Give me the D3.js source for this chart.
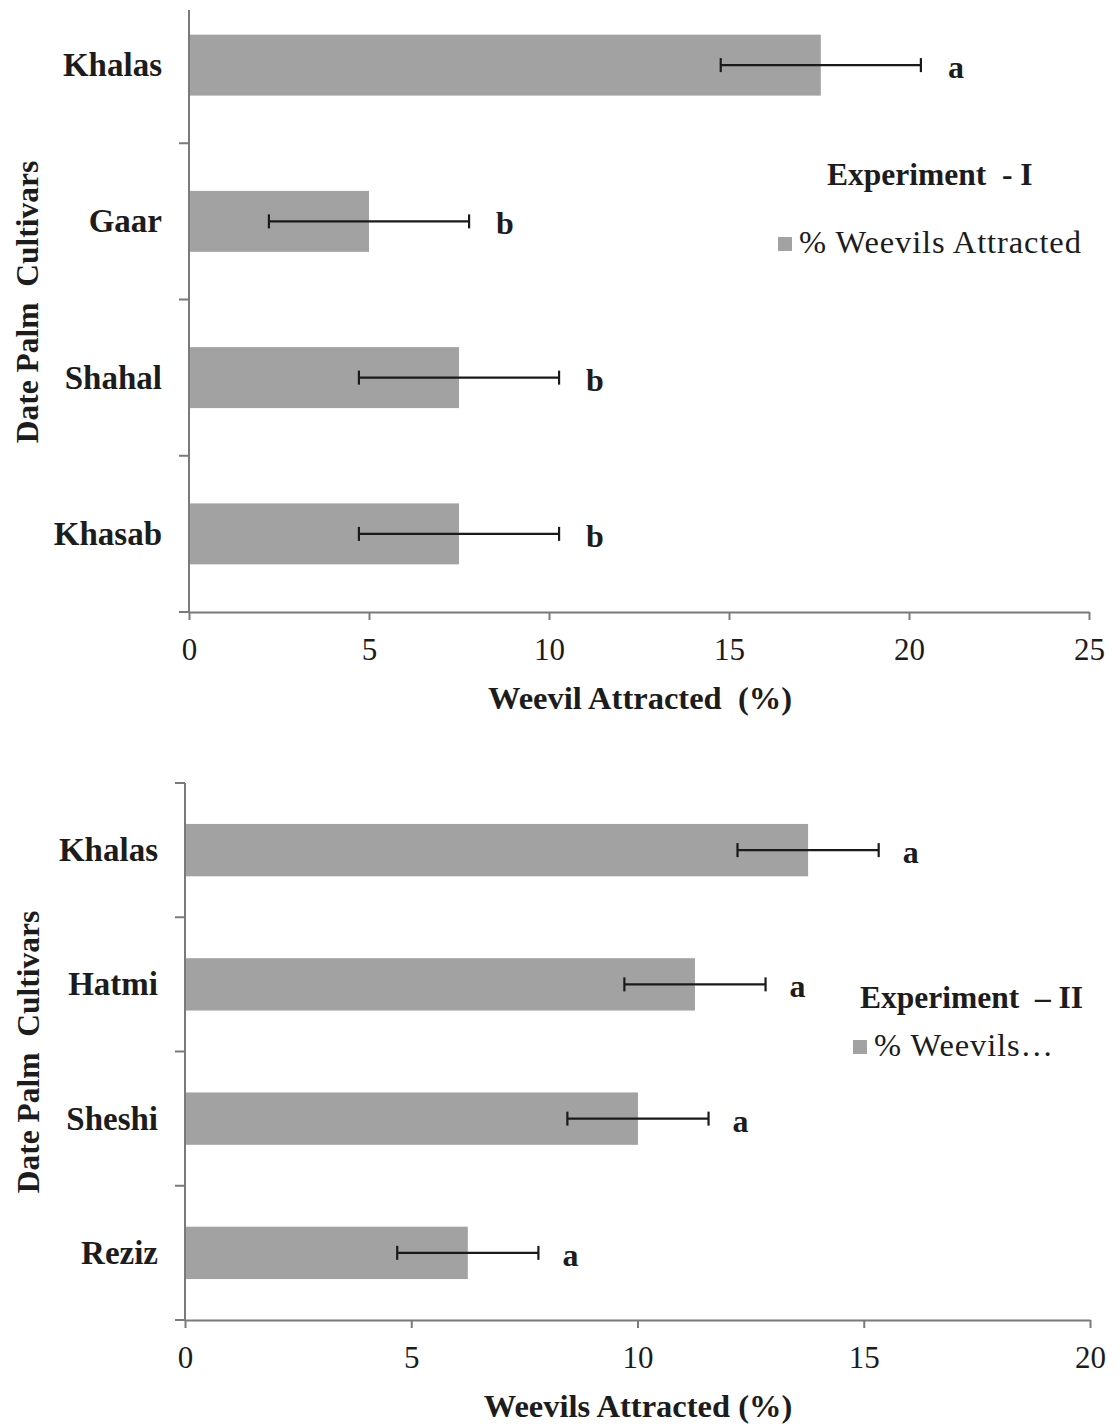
<!DOCTYPE html>
<html>
<head>
<meta charset="utf-8">
<script src="https://cdn.jsdelivr.net/npm/d3@7"></script>
<style>
  html, body { margin: 0; padding: 0; background: #fff; }
  svg text { font-family: "Liberation Serif", "Times New Roman", serif; white-space: pre; fill: #1c1c1c; }
</style>
</head>
<body>
<svg id="chart" width="1120" height="1424"></svg>
<script>
// ---- Data: Experiment I ----
const cultivars1 = ["Khalas", "Gaar", "Shahal", "Khasab"];
const means1 = [17.55, 5.0, 7.5, 7.5];
const errors1 = [2.78, 2.78, 2.78, 2.78];
const letters1 = ["a", "b", "b", "b"];
const ticks1 = [0, 5, 10, 15, 20, 25];

// ---- Data: Experiment II ----
const cultivars2 = ["Khalas", "Hatmi", "Sheshi", "Reziz"];
const means2 = [13.77, 11.27, 10.01, 6.25];
const errors2 = [1.56, 1.56, 1.56, 1.56];
const letters2 = ["a", "a", "a", "a"];
const ticks2 = [0, 5, 10, 15, 20];

const svg = d3.select("#chart");
const barColor = "#a2a2a2";
const axisColor = "#7a7a7a";
const inkColor = "#1a1a1a";

function panel(cfg) {
  const g = svg.append("g");
  const x = d3.scaleLinear().domain([0, cfg.xmax]).range([cfg.left, cfg.right]);
  const yb = d3.scaleBand().domain(cfg.cats).range([cfg.top, cfg.bottom])
    .paddingInner(0.61).paddingOuter(0.305);
  const step = yb.step();

  // bars
  g.selectAll("rect.bar").data(cfg.cats).enter().append("rect")
    .attr("x", x(0))
    .attr("y", d => yb(d))
    .attr("width", (d, i) => x(cfg.means[i]) - x(0))
    .attr("height", yb.bandwidth())
    .attr("fill", barColor);

  // y axis line + band boundary ticks
  g.append("line").attr("x1", x(0)).attr("x2", x(0))
    .attr("y1", cfg.axisTop).attr("y2", cfg.bottom)
    .attr("stroke", axisColor).attr("stroke-width", 2);
  const bounds = d3.range(cfg.cats.length + 1).map(i => cfg.top + i * step)
    .filter(v => v >= cfg.axisTop - 0.5);
  g.selectAll("line.ytick").data(bounds).enter().append("line")
    .attr("x1", x(0) - 10).attr("x2", x(0))
    .attr("y1", d => d).attr("y2", d => d)
    .attr("stroke", axisColor).attr("stroke-width", 2);

  // x axis
  const xAxis = d3.axisBottom(x).tickValues(cfg.ticks).tickSize(8).tickSizeOuter(0).tickPadding(18);
  const ax = g.append("g").attr("transform", `translate(0,${cfg.bottom})`).call(xAxis);
  ax.attr("font-family", null);
  ax.select(".domain").attr("stroke", axisColor).attr("stroke-width", 2);
  ax.selectAll(".tick line").attr("stroke", axisColor).attr("stroke-width", 2);
  ax.selectAll(".tick text")
    .attr("font-size", 31).attr("fill", inkColor);

  // category labels
  g.selectAll("text.cat").data(cfg.cats).enter().append("text")
    .attr("x", x(0) - 27)
    .attr("y", d => yb(d) + yb.bandwidth() / 2 + 11)
    .attr("text-anchor", "end")
    .attr("font-size", 33).attr("font-weight", "bold")
    .text(d => d);

  // error bars
  const eb = g.selectAll("g.err").data(cfg.cats).enter().append("g");
  eb.append("line")
    .attr("x1", (d, i) => x(cfg.means[i] - cfg.errors[i]))
    .attr("x2", (d, i) => x(cfg.means[i] + cfg.errors[i]))
    .attr("y1", d => yb(d) + yb.bandwidth() / 2)
    .attr("y2", d => yb(d) + yb.bandwidth() / 2)
    .attr("stroke", inkColor).attr("stroke-width", 2.2);
  [-1, 1].forEach(s => {
    eb.append("line")
      .attr("x1", (d, i) => x(cfg.means[i] + s * cfg.errors[i]))
      .attr("x2", (d, i) => x(cfg.means[i] + s * cfg.errors[i]))
      .attr("y1", d => yb(d) + yb.bandwidth() / 2 - cfg.cap)
      .attr("y2", d => yb(d) + yb.bandwidth() / 2 + cfg.cap)
      .attr("stroke", inkColor).attr("stroke-width", 2.2);
  });

  // significance letters
  g.selectAll("text.letter").data(cfg.cats).enter().append("text")
    .attr("x", (d, i) => x(cfg.means[i] + cfg.errors[i]) + cfg.letterGap)
    .attr("y", d => yb(d) + yb.bandwidth() / 2 + 13)
    .attr("font-size", 32).attr("font-weight", "bold")
    .text((d, i) => cfg.letters[i]);

  // x title
  g.append("text")
    .attr("x", cfg.xTitleX).attr("y", cfg.bottom + 97)
    .attr("text-anchor", "middle")
    .attr("font-size", 32.5).attr("font-weight", "bold")
    .text(cfg.xTitle);

  // y title
  g.append("text")
    .attr("transform", `translate(${cfg.yTitleX},${cfg.yTitleY}) rotate(-90)`)
    .attr("text-anchor", "middle")
    .attr("font-size", 31.5).attr("font-weight", "bold")
    .text("Date Palm  Cultivars");

  // legend
  g.append("text")
    .attr("x", cfg.legX).attr("y", cfg.legY)
    .attr("font-size", 31.5).attr("font-weight", "bold")
    .text(cfg.legTitle);
  g.append("rect")
    .attr("x", cfg.swX).attr("y", cfg.swY).attr("width", 14).attr("height", 14)
    .attr("fill", barColor);
  g.append("text")
    .attr("x", cfg.swX + 21).attr("y", cfg.swY + 16)
    .attr("font-size", 32.5)
    .attr("letter-spacing", 0.9)
    .text(cfg.legText);
}

panel({
  cats: cultivars1, means: means1, errors: errors1, letters: letters1, ticks: ticks1,
  xmax: 25, left: 189, right: 1089, top: -13, bottom: 612, axisTop: 10,
  cap: 7, letterGap: 27,
  xTitle: "Weevil Attracted  (%)", xTitleX: 640,
  yTitleX: 38, yTitleY: 302,
  legTitle: "Experiment  - I", legX: 827, legY: 185,
  legText: "% Weevils Attracted", swX: 778, swY: 237
});

panel({
  cats: cultivars2, means: means2, errors: errors2, letters: letters2, ticks: ticks2,
  xmax: 20, left: 185, right: 1090, top: 783, bottom: 1320, axisTop: 783,
  cap: 7, letterGap: 24,
  xTitle: "Weevils Attracted (%)", xTitleX: 638,
  yTitleX: 39, yTitleY: 1052,
  legTitle: "Experiment  \u2013 II", legX: 860, legY: 1008,
  legText: "% Weevils\u2026", swX: 853, swY: 1040
});
</script>
</body>
</html>
